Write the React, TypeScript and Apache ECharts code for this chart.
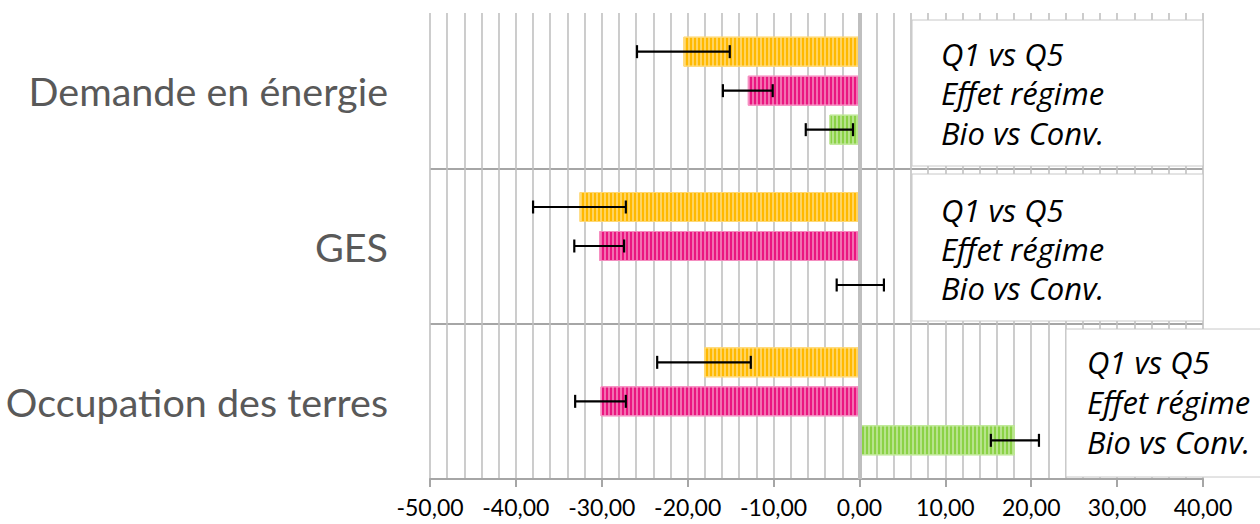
import React, { useEffect, useRef } from "react";
import * as echarts from "echarts";

const categories = ["Demande en énergie", "GES", "Occupation des terres"];
const seriesNames = ["Q1 vs Q5", "Effet régime", "Bio vs Conv."];
const q1q5 = [-20.5, -32.6, -18.1];
const q1q5Err = [5.4, 5.4, 5.45];
const regime = [-13.0, -30.3, -30.15];
const regimeErr = [2.9, 2.9, 2.95];
const bio = [-3.5, 0.1, 18.1];
const bioErr = [2.75, 2.75, 2.8];
const xMin = -50;
const xMax = 40;
const xInterval = 10;

const values = [q1q5, regime, bio];
const errors = [q1q5Err, regimeErr, bioErr];
const colors = ["#FFB900", "#EA1680", "#8BD246"];
const borderColors = ["#FFD873", "#F58DC0", "#BDE794"];

const BAR_W = 30;
const BAR_GAP = 9;

export default function App() {
  const ref = useRef<HTMLDivElement>(null);
  useEffect(() => {
    if (!ref.current) return;
    const chart = echarts.init(ref.current, null, { renderer: "svg" });

    const barSeries = values.map((vals, k) => ({
      type: "bar",
      name: seriesNames[k],
      data: vals,
      barWidth: BAR_W,
      barGap: (BAR_GAP / BAR_W) * 100 + "%",
      itemStyle: {
        color: colors[k],
        borderColor: borderColors[k],
        borderWidth: 1,
        decal: {
          symbol: "rect",
          symbolSize: 1,
          dashArrayX: [2, 2],
          dashArrayY: [4, 0],
          rotation: 0,
          color: "rgba(255,255,255,0.38)",
        },
      },
      z: 2,
      ...(k === 0
        ? {
            markLine: {
              silent: true,
              symbol: "none",
              label: { show: false },
              lineStyle: { color: "#bfbfbf", width: 4, type: "solid" },
              data: [{ xAxis: 0 }],
              z: 3,
            },
          }
        : {}),
    }));

    const offsets = [-(BAR_W + BAR_GAP), 0, BAR_W + BAR_GAP];
    const errSeries = values.map((vals, k) => ({
      type: "custom",
      name: seriesNames[k] + " err",
      z: 6,
      silent: true,
      encode: { x: 1, y: 0 },
      data: vals.map((v, i) => [i, v, errors[k][i]]),
      renderItem: (params: any, api: any) => {
        const cat = api.value(0);
        const v = api.value(1);
        const e = api.value(2);
        const p0 = api.coord([v - e, cat]);
        const p1 = api.coord([v + e, cat]);
        const y = p0[1] + offsets[k];
        const style = { stroke: "#000", lineWidth: 2.2 };
        const cap = 6.5;
        return {
          type: "group",
          children: [
            { type: "line", shape: { x1: p0[0], y1: y, x2: p1[0], y2: y }, style },
            { type: "line", shape: { x1: p0[0], y1: y - cap, x2: p0[0], y2: y + cap }, style },
            { type: "line", shape: { x1: p1[0], y1: y - cap, x2: p1[0], y2: y + cap }, style },
          ],
        };
      },
    }));

    const boxFont = "italic 31px 'Open Sans'";
    const makeBox = (x: number, y: number, w: number, h: number, tx: number, ty: number[]) => ({
      type: "group",
      z: 10,
      children: [
        {
          type: "rect",
          shape: { x, y, width: w, height: h },
          style: { fill: "#fff", stroke: "#c8c8c8", lineWidth: 1 },
          z: 10,
        },
        ...seriesNames.map((t, i) => ({
          type: "text",
          x: tx,
          y: ty[i],
          z: 11,
          style: { text: t, font: boxFont, fill: "#000", textVerticalAlign: "middle" },
        })),
      ],
    });

    chart.setOption({
      animation: false,
      backgroundColor: "#fff",
      grid: { left: 430, right: 57, top: 13, bottom: 45 },
      xAxis: {
        type: "value",
        min: xMin,
        max: xMax,
        interval: xInterval,
        splitNumber: 9,
        axisLine: { show: true, lineStyle: { color: "#a6a6a6", width: 2 } },
        axisTick: { show: true, length: 8, lineStyle: { color: "#a6a6a6", width: 2 } },
        splitLine: { show: true, lineStyle: { color: "#c0c0c0", width: 1.6 } },
        minorTick: { show: false, splitNumber: 5 },
        minorSplitLine: { show: true, lineStyle: { color: "#c0c0c0", width: 1.6 } },
        axisLabel: {
          color: "#000",
          fontFamily: "Lato",
          fontSize: 23,
          lineHeight: 18,
          margin: 19,
          formatter: (v: number) => v.toFixed(2).replace(".", ","),
        },
      },
      yAxis: {
        type: "category",
        data: categories,
        inverse: true,
        axisLine: { show: false, onZero: false },
        axisTick: { show: false },
        splitLine: {
          show: true,
          interval: (index: number) => index !== 0,
          lineStyle: { color: "#a6a6a6", width: 2 },
        },
        axisLabel: { color: "#595959", fontFamily: "Lato", fontSize: 39.5, margin: 42 },
      },
      series: [...barSeries, ...errSeries],
      graphic: [
        makeBox(912, 20, 291, 146, 941, [54, 93, 133]),
        makeBox(912, 174, 291, 147, 941, [210, 249, 288]),
        makeBox(1066, 329, 200, 148, 1087, [362, 402, 442]),
      ],
    });
    return () => chart.dispose();
  }, []);
  return (
    <div
      ref={ref}
      style={{ position: "fixed", left: 0, top: 0, width: 1260, height: 524 }}
    />
  );
}
